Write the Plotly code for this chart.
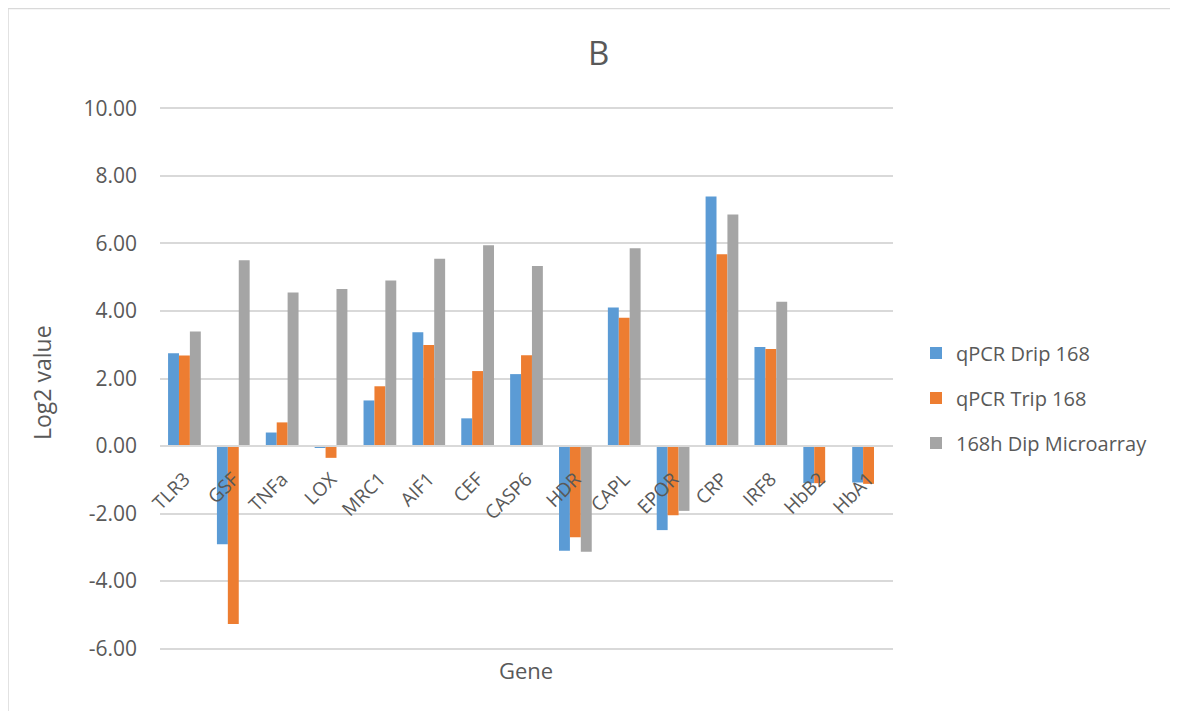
import plotly.graph_objects as go

genes = ["TLR3", "GSF", "TNFa", "LOX", "MRC1", "AIF1", "CEF", "CASP6", "HDR", "CAPL",
         "EPOR", "CRP", "IRF8", "HbB2", "HbA1"]
qpcr_drip = [2.75, -2.91, 0.40, -0.04, 1.35, 3.37, 0.82, 2.13, -3.10, 4.10, -2.49, 7.39, 2.93, -1.10, -1.08]
qpcr_trip = [2.68, -5.27, 0.70, -0.35, 1.77, 2.99, 2.22, 2.69, -2.70, 3.80, -2.05, 5.68, 2.87, -1.10, -1.12]
microarray = [3.39, 5.50, 4.55, 4.65, 4.90, 5.55, 5.95, 5.33, -3.13, 5.86, -1.92, 6.86, 4.27, None, None]
y_ticks = [-6, -4, -2, 0, 2, 4, 6, 8, 10]

FONT = "Open Sans"
TXT = "#595959"
W, H = 1178, 711
OFF = 8  # page body margin offset
Y_LO, Y_HI = -6.1, 10.1
# reference page-pixel positions of y=10 and y=-6
p10, pm6 = 108, 649
unit = (pm6 - p10) / 16.0
top_pix = p10 - (Y_HI - 10) * unit
bot_pix = pm6 + (-6 - Y_LO) * unit
L = 160 - OFF
R = W - (893 - OFF)
T = top_pix - OFF
B = H - (bot_pix - OFF)
pw, ph = W - L - R, H - T - B

def px(x):
    return (x - OFF - L) / pw

def py(y):
    return (H - B - (y - OFF)) / ph

fig = go.Figure()
series = [("qPCR Drip 168", qpcr_drip, "#5B9BD5"),
          ("qPCR Trip 168", qpcr_trip, "#ED7D31"),
          ("168h Dip Microarray", microarray, "#A5A5A5")]
for i, (name, vals, col) in enumerate(series):
    fig.add_trace(go.Bar(x=genes, y=vals, name=name, marker=dict(color=col, line=dict(width=0)),
                         legendgroup=f"g{i}"))

fig.update_layout(
    width=W, height=H,
    margin=dict(l=L, r=R, t=T, b=B),
    paper_bgcolor="white", plot_bgcolor="white",
    barmode="group", bargap=0.33, bargroupgap=0,
    font=dict(family=FONT, color=TXT, size=18),
    showlegend=True,
    legend=dict(x=px(916), y=py(398), xanchor="left", yanchor="middle",
                font=dict(size=20, color=TXT), tracegroupgap=16,
                bgcolor="rgba(0,0,0,0)"),
    xaxis=dict(anchor="free", position=py(446), showgrid=False, showline=True,
               linecolor="#d9d9d9", linewidth=1.5, ticks="", tickangle=-45,
               ticklabelstandoff=14,
               tickfont=dict(size=19, color=TXT)),
    yaxis=dict(range=[Y_LO, Y_HI], tickvals=y_ticks, ticktext=[f"{v:.2f}" for v in y_ticks],
               showgrid=True, gridcolor="#d9d9d9", gridwidth=1.5, zeroline=False,
               showline=False, ticks="", ticklabelstandoff=22,
               tickfont=dict(size=21, color=TXT)),
    annotations=[
        dict(text="B", x=px(598), y=py(52), xref="paper", yref="paper", showarrow=False,
             font=dict(size=33, color=TXT), xanchor="center", yanchor="middle"),
        dict(text="Gene", x=px(526), y=py(670), xref="paper", yref="paper", showarrow=False,
             font=dict(size=22, color=TXT), xanchor="center", yanchor="middle"),
        dict(text="Log2 value", x=px(42), y=py(383), xref="paper", yref="paper", showarrow=False,
             textangle=-90, font=dict(size=23, color=TXT), xanchor="center", yanchor="middle"),
    ],
    shapes=[dict(type="rect", xref="paper", yref="paper", x0=px(8), y0=py(760), x1=px(1230), y1=py(8),
                 line=dict(color="#d9d9d9", width=1.5), fillcolor="rgba(0,0,0,0)", layer="below")],
)

fig.write_html("out.html")
